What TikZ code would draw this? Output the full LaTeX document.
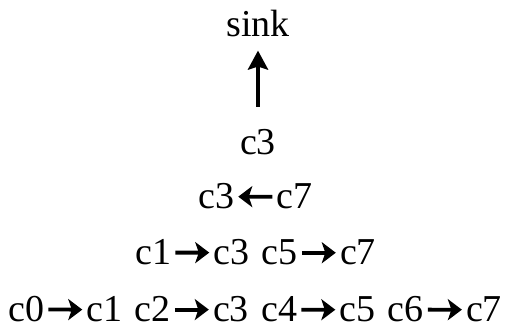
\documentclass[tikz,border=0pt]{standalone}
\usepackage{fontspec}
\setmainfont{Liberation Serif}
\usetikzlibrary{arrows.meta, positioning}

\begin{document}
\begin{tikzpicture}[
  x=1pt, y=-1pt,
  tok/.style={inner sep=0pt, font=\fontsize{38}{42}\selectfont},
  link/.style={-{Stealth[length=14pt, width=21pt, inset=3.5pt]}, line width=3.8pt,
               shorten <=4pt, shorten >=4pt},
  up/.style={-{Stealth[length=19pt, width=20pt, inset=3pt]}, line width=4.5pt,
             shorten <=23pt, shorten >=13pt}
]
\useasboundingbox (0,0) rectangle (507,331);

% ── Top ──
\node[tok, anchor=base] (sink) at (258,37) {sink};
\node[tok, anchor=base] (top3) at (258,155) {c3};
\draw[up] (top3) -- (sink);

% ── Second row ──
\node[tok, anchor=base west] (r2c3) at (198,209) {c3};
\node[tok, base right=42pt of r2c3] (r2c7) {c7};
\draw[link] (r2c7) -- (r2c3);

% ── Third row ──
\node[tok, anchor=base west] (r3c1) at (135,265) {c1};
\node[tok, base right=42pt of r3c1] (r3c3) {c3};
\node[tok, base right=12pt of r3c3] (r3c5) {c5};
\node[tok, base right=42pt of r3c5] (r3c7) {c7};
\draw[link] (r3c1) -- (r3c3);
\draw[link] (r3c5) -- (r3c7);

% ── Bottom row ──
\node[tok, anchor=base west] (r4c0) at (8,322) {c0};
\node[tok, base right=42pt of r4c0] (r4c1) {c1};
\node[tok, base right=12pt of r4c1] (r4c2) {c2};
\node[tok, base right=42pt of r4c2] (r4c3) {c3};
\node[tok, base right=12pt of r4c3] (r4c4) {c4};
\node[tok, base right=42pt of r4c4] (r4c5) {c5};
\node[tok, base right=12pt of r4c5] (r4c6) {c6};
\node[tok, base right=42pt of r4c6] (r4c7) {c7};
\draw[link] (r4c0) -- (r4c1);
\draw[link] (r4c2) -- (r4c3);
\draw[link] (r4c4) -- (r4c5);
\draw[link] (r4c6) -- (r4c7);

\end{tikzpicture}
\end{document}
